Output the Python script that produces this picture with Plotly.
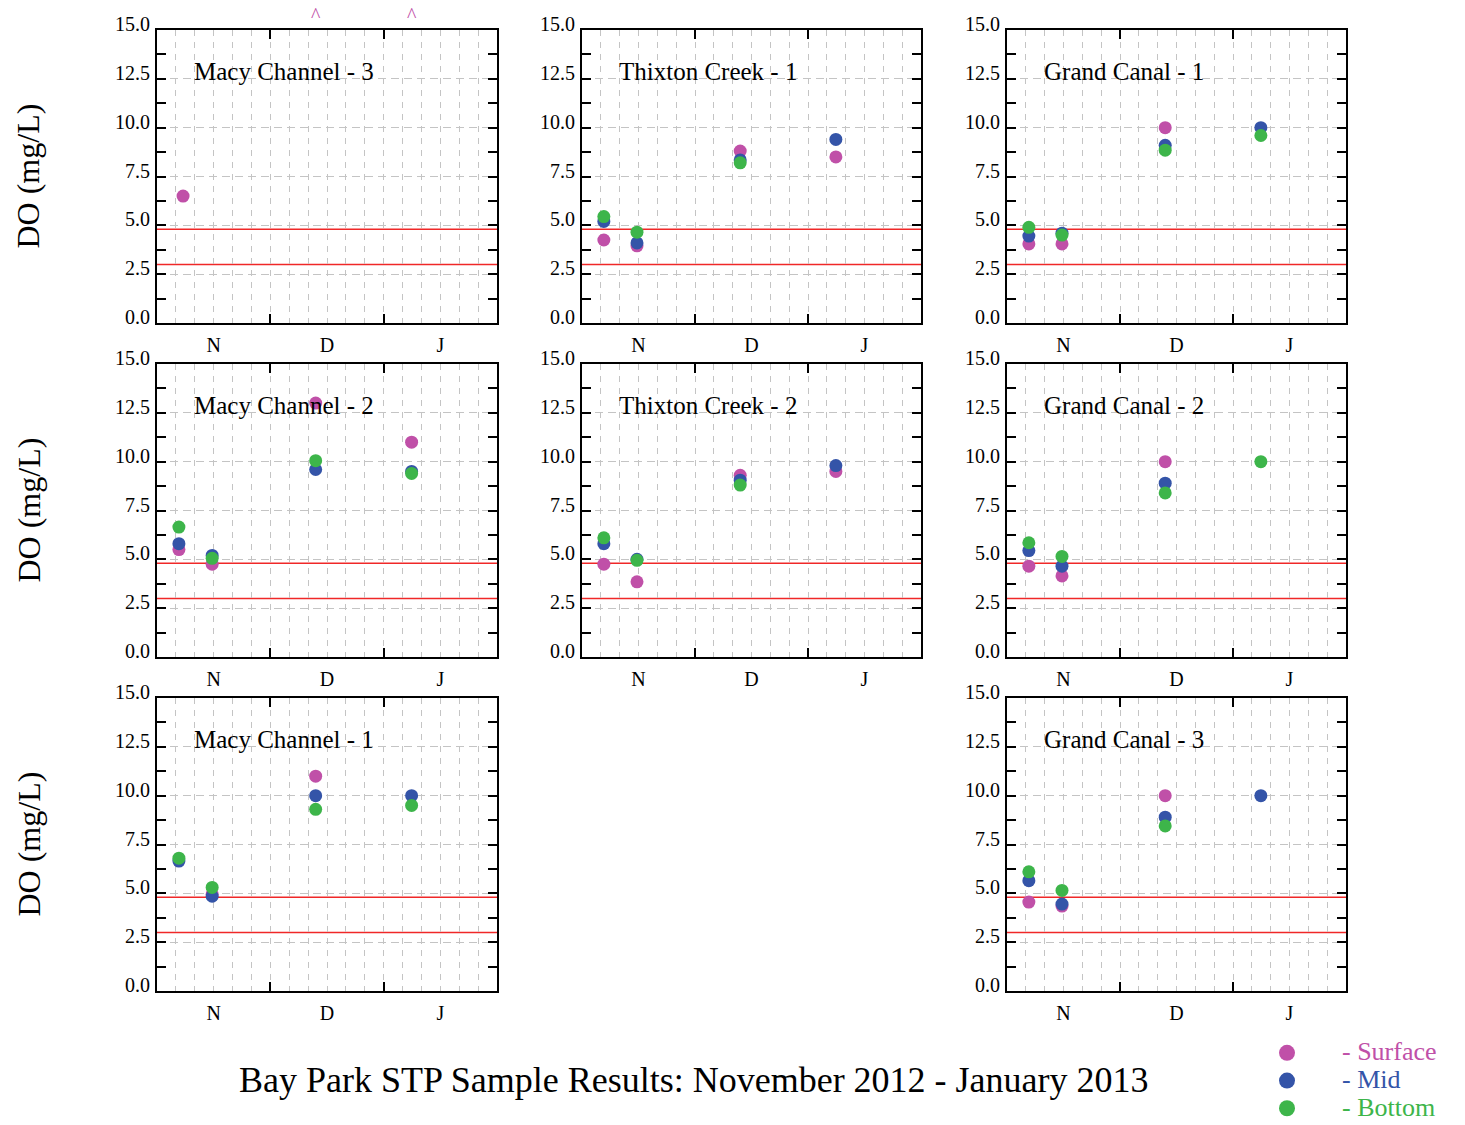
import plotly.graph_objects as go

# ---------------- data ----------------
# x = days after 1 Nov 2012 on a 30-day-per-month axis (N | D | J)
sample_days = [5.8, 14.6, 42.0, 67.4]
macy3_days = [6.9, 14.6, 42.0, 67.4]
offscale_days_macy3 = [42.0, 67.4]   # surface values above scale (^)

month_labels = ["N", "D", "J"]
month_label_pos = [15, 45, 75]
month_bounds = [30, 60]
thresholds = [4.8, 3.0]

sites = ["Macy Channel - 3", "Thixton Creek - 1", "Grand Canal - 1",
         "Macy Channel - 2", "Thixton Creek - 2", "Grand Canal - 2",
         "Macy Channel - 1", "Grand Canal - 3"]

surface = {
    "Macy Channel - 3": [6.5, None, None, None],
    "Thixton Creek - 1": [4.25, 3.95, 8.8, 8.5],
    "Grand Canal - 1": [4.05, 4.05, 10.0, None],
    "Macy Channel - 2": [5.5, 4.75, 13.0, 11.0],
    "Thixton Creek - 2": [4.75, 3.85, 9.3, 9.5],
    "Grand Canal - 2": [4.65, 4.15, 10.0, None],
    "Macy Channel - 1": [None, 4.95, 11.0, None],
    "Grand Canal - 3": [4.55, 4.35, 10.0, None],
}
mid = {
    "Macy Channel - 3": [None, None, None, None],
    "Thixton Creek - 1": [5.2, 4.1, 8.35, 9.4],
    "Grand Canal - 1": [4.45, 4.6, 9.1, 10.0],
    "Macy Channel - 2": [5.8, 5.2, 9.6, 9.5],
    "Thixton Creek - 2": [5.8, 5.0, 9.05, 9.8],
    "Grand Canal - 2": [5.45, 4.65, 8.9, None],
    "Macy Channel - 1": [6.65, 4.85, 10.0, 10.0],
    "Grand Canal - 3": [5.65, 4.45, 8.9, 10.0],
}
bottom = {
    "Macy Channel - 3": [None, None, None, None],
    "Thixton Creek - 1": [5.45, 4.65, 8.2, None],
    "Grand Canal - 1": [4.9, 4.5, 8.85, 9.6],
    "Macy Channel - 2": [6.65, 5.05, 10.05, 9.4],
    "Thixton Creek - 2": [6.1, 4.95, 8.8, None],
    "Grand Canal - 2": [5.85, 5.15, 8.4, 10.0],
    "Macy Channel - 1": [6.8, 5.3, 9.3, 9.5],
    "Grand Canal - 3": [6.1, 5.15, 8.45, None],
}

# ---------------- style / layout ----------------
W, H = 1465, 1125
FONT = "Liberation Serif, Times New Roman, serif"
C_SURF, C_MID, C_BOT = "#C050A8", "#3454A8", "#3DB54A"
RED = "#F02828"
GRID = "#c4c4c4"

col_px = [(157, 497), (582, 921), (1007, 1346)]
row_px = [(30, 323), (364, 657), (698, 991)]
positions = [(0, 0), (0, 1), (0, 2), (1, 0), (1, 1), (1, 2), (2, 0), (2, 2)]

fig = go.Figure()
annotations = []
shapes = []
layout = {}

for i, (site, (r, c)) in enumerate(zip(sites, positions), start=1):
    xa = "x" if i == 1 else f"x{i}"
    ya = "y" if i == 1 else f"y{i}"
    days = macy3_days if site == "Macy Channel - 3" else sample_days
    for name, vals, colr in [("Surface", surface[site], C_SURF),
                             ("Mid", mid[site], C_MID),
                             ("Bottom", bottom[site], C_BOT)]:
        fig.add_trace(go.Scatter(
            x=days, y=vals, mode="markers", name=name,
            marker=dict(size=13, color=colr), xaxis=xa, yaxis=ya,
            showlegend=False, cliponaxis=False))

    x0, x1 = col_px[c]
    t0, t1 = row_px[r]
    grid_vals = list(range(0, 91, 5))
    grid_text = [month_labels[month_label_pos.index(v)] if v in month_label_pos else ""
                 for v in grid_vals]
    layout["xaxis" if i == 1 else f"xaxis{i}"] = dict(
        domain=[x0 / W, x1 / W], anchor=ya, range=[0, 90],
        tickmode="array", tickvals=grid_vals, ticktext=grid_text, ticks="",
        showgrid=True, gridcolor=GRID, gridwidth=1, griddash="6px,6px",
        minor=dict(tickmode="array", tickvals=month_bounds, ticks="inside",
                   ticklen=9, tickwidth=2, tickcolor="black", showgrid=False),
        showline=True, linecolor="black", linewidth=2, mirror="ticks",
        zeroline=False, fixedrange=True,
        tickfont=dict(family=FONT, size=20, color="black"),
        ticklabelstandoff=3,
    )
    layout["yaxis" if i == 1 else f"yaxis{i}"] = dict(
        domain=[1 - t1 / H, 1 - t0 / H], anchor=xa, range=[0, 15],
        dtick=2.5, tick0=0, tickformat=".1f", ticks="inside", ticklen=9,
        tickwidth=2, tickcolor="black",
        showgrid=True, gridcolor=GRID, gridwidth=1, griddash="8px,5px",
        minor=dict(dtick=1.25, tick0=0, ticks="inside", ticklen=9, tickwidth=2,
                   tickcolor="black", showgrid=False),
        showline=True, linecolor="black", linewidth=2, mirror="ticks",
        zeroline=False, fixedrange=True,
        tickfont=dict(family=FONT, size=20, color="black"),
        ticklabelshift=-6, ticklabelstandoff=1,
    )
    # panel title
    annotations.append(dict(
        text=site, xref=f"{xa} domain", yref=ya, x=35 / 340, y=12.9,
        xanchor="left", yanchor="middle", showarrow=False,
        font=dict(family=FONT, size=25, color="black")))
    # threshold lines
    for tv in thresholds:
        shapes.append(dict(type="line", xref=f"{xa} domain", yref=ya,
                           x0=0, x1=1, y0=tv, y1=tv, layer="below",
                           line=dict(color=RED, width=1.5)))
    # y-axis label for left column
    if c == 0:
        annotations.append(dict(
            text="DO (mg/L)", xref="paper", yref="paper", x=28 / W,
            y=1 - (t0 + t1) / 2 / H, xanchor="center", yanchor="middle",
            textangle=-90, showarrow=False,
            font=dict(family=FONT, size=32, color="black")))
    if site == "Macy Channel - 3":
        for d in offscale_days_macy3:
            annotations.append(dict(
                text="^", xref=xa, yref=ya, x=d, y=15, yanchor="bottom",
                yshift=2, showarrow=False,
                font=dict(family=FONT, size=20, color=C_SURF)))

# main title
annotations.append(dict(
    text="Bay Park STP Sample Results: November 2012 - January 2013",
    xref="paper", yref="paper", x=694 / W, y=1 - 1080 / H,
    xanchor="center", yanchor="middle", showarrow=False,
    font=dict(family=FONT, size=36, color="black")))

# legend entries
for name, colr in [("Surface", C_SURF), ("Mid", C_MID), ("Bottom", C_BOT)]:
    fig.add_trace(go.Scatter(
        x=[None], y=[None], mode="markers", marker=dict(size=17, color=colr),
        name=f'<span style="font-size:26px;color:{colr}">- {name}</span>',
        showlegend=True))

fig.update_layout(
    width=W, height=H,
    margin=dict(l=0, r=0, t=0, b=0, autoexpand=False),
    paper_bgcolor="white", plot_bgcolor="white",
    font=dict(family=FONT, color="black"),
    annotations=annotations, shapes=shapes,
    legend=dict(x=1232 / W, y=1 - 1034 / H, xanchor="left", yanchor="top",
                itemwidth=100, font=dict(family=FONT, size=19),
                bgcolor="rgba(0,0,0,0)", borderwidth=0, tracegroupgap=0),
    **layout,
)

fig.write_html("out.html")
